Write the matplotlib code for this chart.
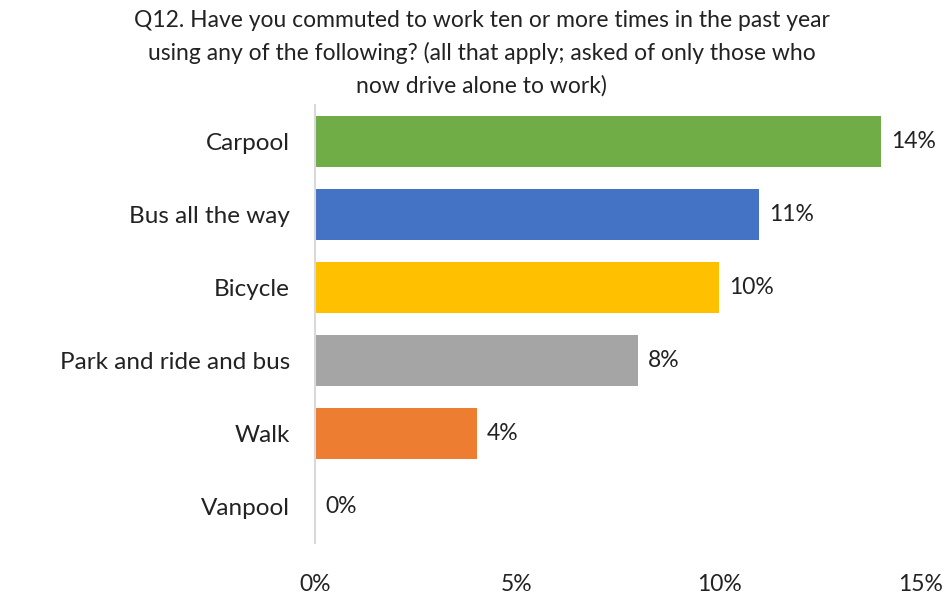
import matplotlib.pyplot as plt

categories = ['Carpool', 'Bus all the way', 'Bicycle', 'Park and ride and bus', 'Walk', 'Vanpool']
values = [14, 11, 10, 8, 4, 0]
colors = ['#70AD47', '#4472C4', '#FFC000', '#A5A5A5', '#ED7D31', '#5B9BD5']
ticks = [0, 5, 10, 15]

plt.rcParams['font.family'] = ['Lato', 'DejaVu Sans']

fig = plt.figure(figsize=(9.5, 5.99), dpi=100)
ax = fig.add_axes([0.3316, 0.0935, 0.6379, 0.7312])

ypos = list(range(len(categories)))
ax.barh(ypos, values, height=0.71, color=colors)
for y, v in zip(ypos, values):
    ax.text(v + 0.25, y, f'{v}%', va='center', ha='left', fontsize=16.5, color='#222222')

ax.set_ylim(len(categories) - 0.5, -0.5)
ax.set_xlim(0, 15)
ax.set_yticks(ypos)
ax.set_yticklabels(categories, fontsize=17.5, color='#222222')
ax.set_xticks(ticks)
ax.set_xticklabels([f'{t}%' for t in ticks], fontsize=16.5, color='#222222')
ax.tick_params(axis='y', length=0, pad=18)
ax.tick_params(axis='x', length=0, pad=22)

for side in ['top', 'right', 'bottom']:
    ax.spines[side].set_visible(False)
ax.spines['left'].set_color('#D9D9D9')
ax.spines['left'].set_linewidth(1.5)

fig.text(0.507, 0.983,
         'Q12. Have you commuted to work ten or more times in the past year\n'
         'using any of the following? (all that apply; asked of only those who\n'
         'now drive alone to work)',
         ha='center', va='top', fontsize=16.5, linespacing=1.62, color='#222222')

fig.savefig('out.png', dpi=100)
